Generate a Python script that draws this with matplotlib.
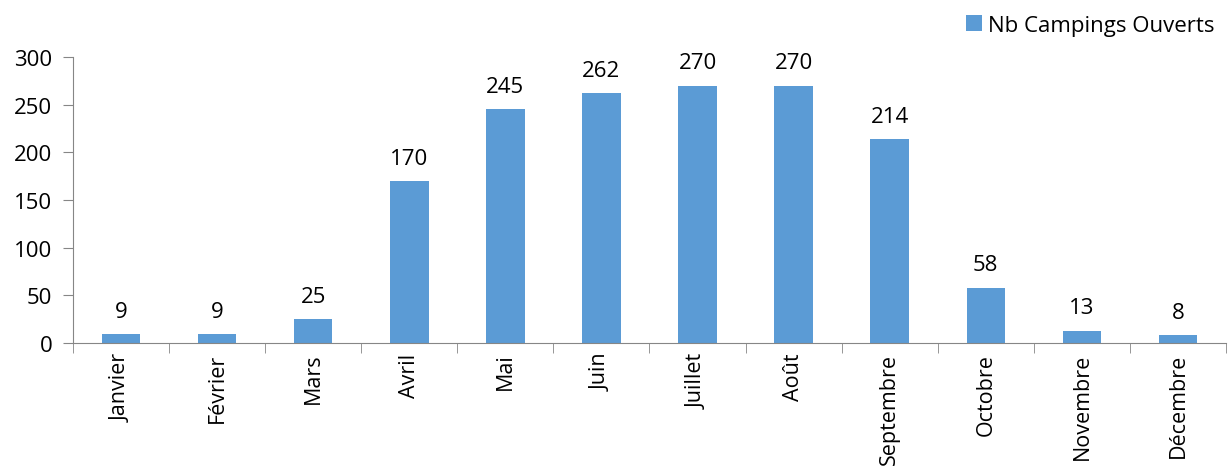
import numpy as np
import matplotlib.pyplot as plt

plt.rcParams['font.family'] = ['Open Sans', 'DejaVu Sans']

mois = ["Janvier", "Février", "Mars", "Avril", "Mai", "Juin", "Juillet",
        "Août", "Septembre", "Octobre", "Novembre", "Décembre"]
campings = [9, 9, 25, 170, 245, 262, 270, 270, 214, 58, 13, 8]

fig = plt.figure(figsize=(12.28, 4.77), dpi=100)
ax = fig.add_axes([73/1228, (477-344)/477, (1226-73)/1228, (344-58)/477])

x = np.arange(len(mois))
bars = ax.bar(x, campings, width=0.4, color='#5B9BD5', label='Nb Campings Ouverts')
for xi, v in zip(x, campings):
    ax.text(xi, v + 13, str(v), ha='center', va='bottom', fontsize=16)

ax.set_xlim(-0.5, len(mois) - 0.5)
ax.set_ylim(0, 300)
ax.set_yticks(range(0, 301, 50))
ax.tick_params(axis='y', labelsize=16, length=7, color='#868686', pad=8)
ax.set_xticks(x)
ax.set_xticklabels(mois, rotation=90, fontsize=15.5)
ax.tick_params(axis='x', length=0, pad=7)
ax.set_xticks(np.arange(-0.5, len(mois), 1), minor=True)
ax.tick_params(axis='x', which='minor', length=7, color='#868686')

for s in ['top', 'right']:
    ax.spines[s].set_visible(False)
for s in ['left', 'bottom']:
    ax.spines[s].set_color('#868686')

fig.legend(loc='upper right', bbox_to_anchor=(1.0, 0.995), frameon=False,
           fontsize=16, handlelength=0.7, handleheight=0.7, handletextpad=0.3,
           borderaxespad=0.2)

fig.savefig('out.png')
